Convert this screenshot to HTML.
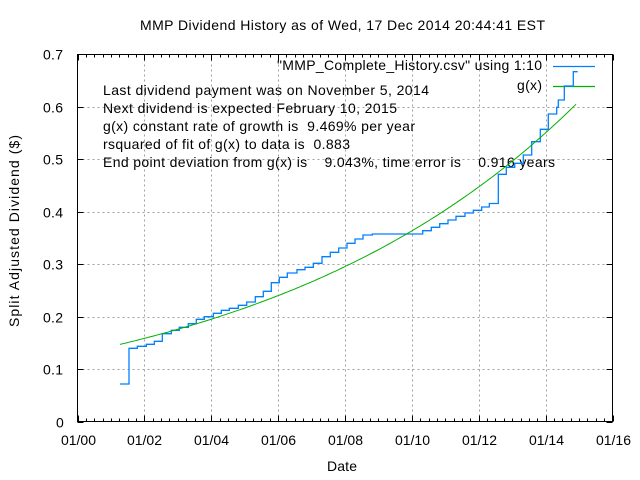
<!DOCTYPE html>
<html><head><meta charset="utf-8"><style>
html,body{margin:0;padding:0;background:#fff;}
svg{display:block;font-family:"Liberation Sans",sans-serif;}
</style></head><body>
<svg id="s" width="640" height="480" viewBox="0 0 640 480" xmlns="http://www.w3.org/2000/svg">
<rect width="640" height="480" fill="#fff"/>
<g id="grid" stroke="#a0a0a0" stroke-dasharray="2,3" stroke-width="1"></g>
<g id="ticks" stroke="#000" stroke-width="1"></g>
<rect x="77.5" y="54.5" width="535" height="367" fill="none" stroke="#000" stroke-width="1"/>
<g id="labels" font-size="14" fill="#000"></g>
<text x="140" y="30" font-size="14" textLength="405" lengthAdjust="spacing">MMP Dividend History as of Wed, 17 Dec 2014 20:44:41 EST</text>
<g font-size="14">
<text x="103" y="95" textLength="326" lengthAdjust="spacing">Last dividend payment was on November 5, 2014</text>
<text x="103" y="113" textLength="294" lengthAdjust="spacing">Next dividend is expected February 10, 2015</text>
<text x="103" y="131" textLength="312" lengthAdjust="spacing" xml:space="preserve">g(x) constant rate of growth is  9.469% per year</text>
<text x="103" y="149" textLength="247" lengthAdjust="spacing" xml:space="preserve">rsquared of fit of g(x) to data is  0.883</text>
<text x="103" y="167" textLength="452" lengthAdjust="spacing" xml:space="preserve">End point deviation from g(x) is    9.043%, time error is    0.916 years</text>
<text x="277" y="70" textLength="265" lengthAdjust="spacing">"MMP_Complete_History.csv" using 1:10</text>
<text x="517" y="90" textLength="25" lengthAdjust="spacing">g(x)</text>
</g>
<line x1="553" y1="66.5" x2="595" y2="66.5" stroke="#0080ff" stroke-width="1.2"/>
<line x1="553" y1="86.5" x2="595" y2="86.5" stroke="#00b000" stroke-width="1.2"/>
<text x="327" y="471" font-size="14" textLength="30" lengthAdjust="spacing">Date</text>
<text transform="translate(19,327) rotate(-90)" font-size="14" textLength="192" lengthAdjust="spacing">Split Adjusted Dividend ($)</text>
<polyline id="step" fill="none" stroke="#0080ff" stroke-width="1.3"/>
<polyline id="g" fill="none" stroke="#00b000" stroke-width="1"/>
</svg>
<script>
var NS="http://www.w3.org/2000/svg";
function el(p,t,a,txt){var e=document.createElementNS(NS,t);for(var k in a)e.setAttribute(k,a[k]);if(txt!=null)e.textContent=txt;document.getElementById(p).appendChild(e);}
var L=77.5,R=612.5,T=54.5,B=421.5;
for(var i=0;i<=7;i++){var y=B-i*52.43;y=Math.round(y)+0.5;
 if(i>0&&i<7){el('grid','line',{x1:L,y1:y,x2:R,y2:y});}
 el('ticks','line',{x1:L,y1:y,x2:L+6,y2:y});el('ticks','line',{x1:R,y1:y,x2:R-6,y2:y});
 if(i==0)el('labels','text',{x:56,y:y+5},'0');
 else el('labels','text',{x:43,y:y+5,textLength:20,lengthAdjust:'spacing'},(i/10).toFixed(1));}
for(var j=0;j<=64;j++){var x=L+j*535/64;x=Math.round(x)+0.5;var maj=(j%8==0);
 if(maj&&j>0&&j<64)el('grid','line',{x1:x,y1:T,x2:x,y2:B});
 var h=maj?6:3;
 el('ticks','line',{x1:x,y1:B,x2:x,y2:B-h});el('ticks','line',{x1:x,y1:T,x2:x,y2:T+h});
 if(maj){var yr=j/4;el('labels','text',{x:x-17.5,y:445,textLength:35,lengthAdjust:'spacing'},'01/'+(yr<10?'0':'')+yr);}}
var d=[[120,384],[129,348.3],[137.3,346.3],[146.3,344.3],[154.3,341.3],[162.3,333.7],[171.3,330.3],[179.3,327.3],[188.3,323.7],[196.3,319.3],[204.3,316.7],[213.3,313.3],[221.3,310.3],[229.3,308.3],[238.3,305.3],[246.7,302],[255.3,296.7],[263.3,291.3],[271.3,282.7],[279.3,277.3],[287.3,273],[297,269.7],[305,267.3],[313.3,263.3],[322,256.7],[330.3,252.3],[338.7,248],[347,243.3],[355,239],[363,235],[372.3,234],[422.7,234],[422.7,230.7],[431.3,227.3],[439.7,223.7],[448,220],[456,216.3],[465,213],[473.3,210.3],[481.7,207],[489.3,203.5],[498.3,174.3],[506.3,167.3],[514.7,163.3],[523.3,155],[531.7,141.7],[540.3,129.3],[548.3,114],[556.7,107.3],[558.3,100],[564.3,86],[573.3,71.7],[577.7,71.7]];
var pts=[];for(var k=0;k<d.length;k++){if(k>0)pts.push(d[k][0]+','+d[k-1][1]);pts.push(d[k][0]+','+d[k][1]);}
document.getElementById('step').setAttribute('points',pts.join(' '));
var gp=[];for(var x=120;x<=577;x+=3){var v=0.147*Math.exp(1.418*(x-120)/457);gp.push(x+','+(421.5-v*524.3).toFixed(1));}
document.getElementById('g').setAttribute('points',gp.join(' '));
</script>
</body></html>
